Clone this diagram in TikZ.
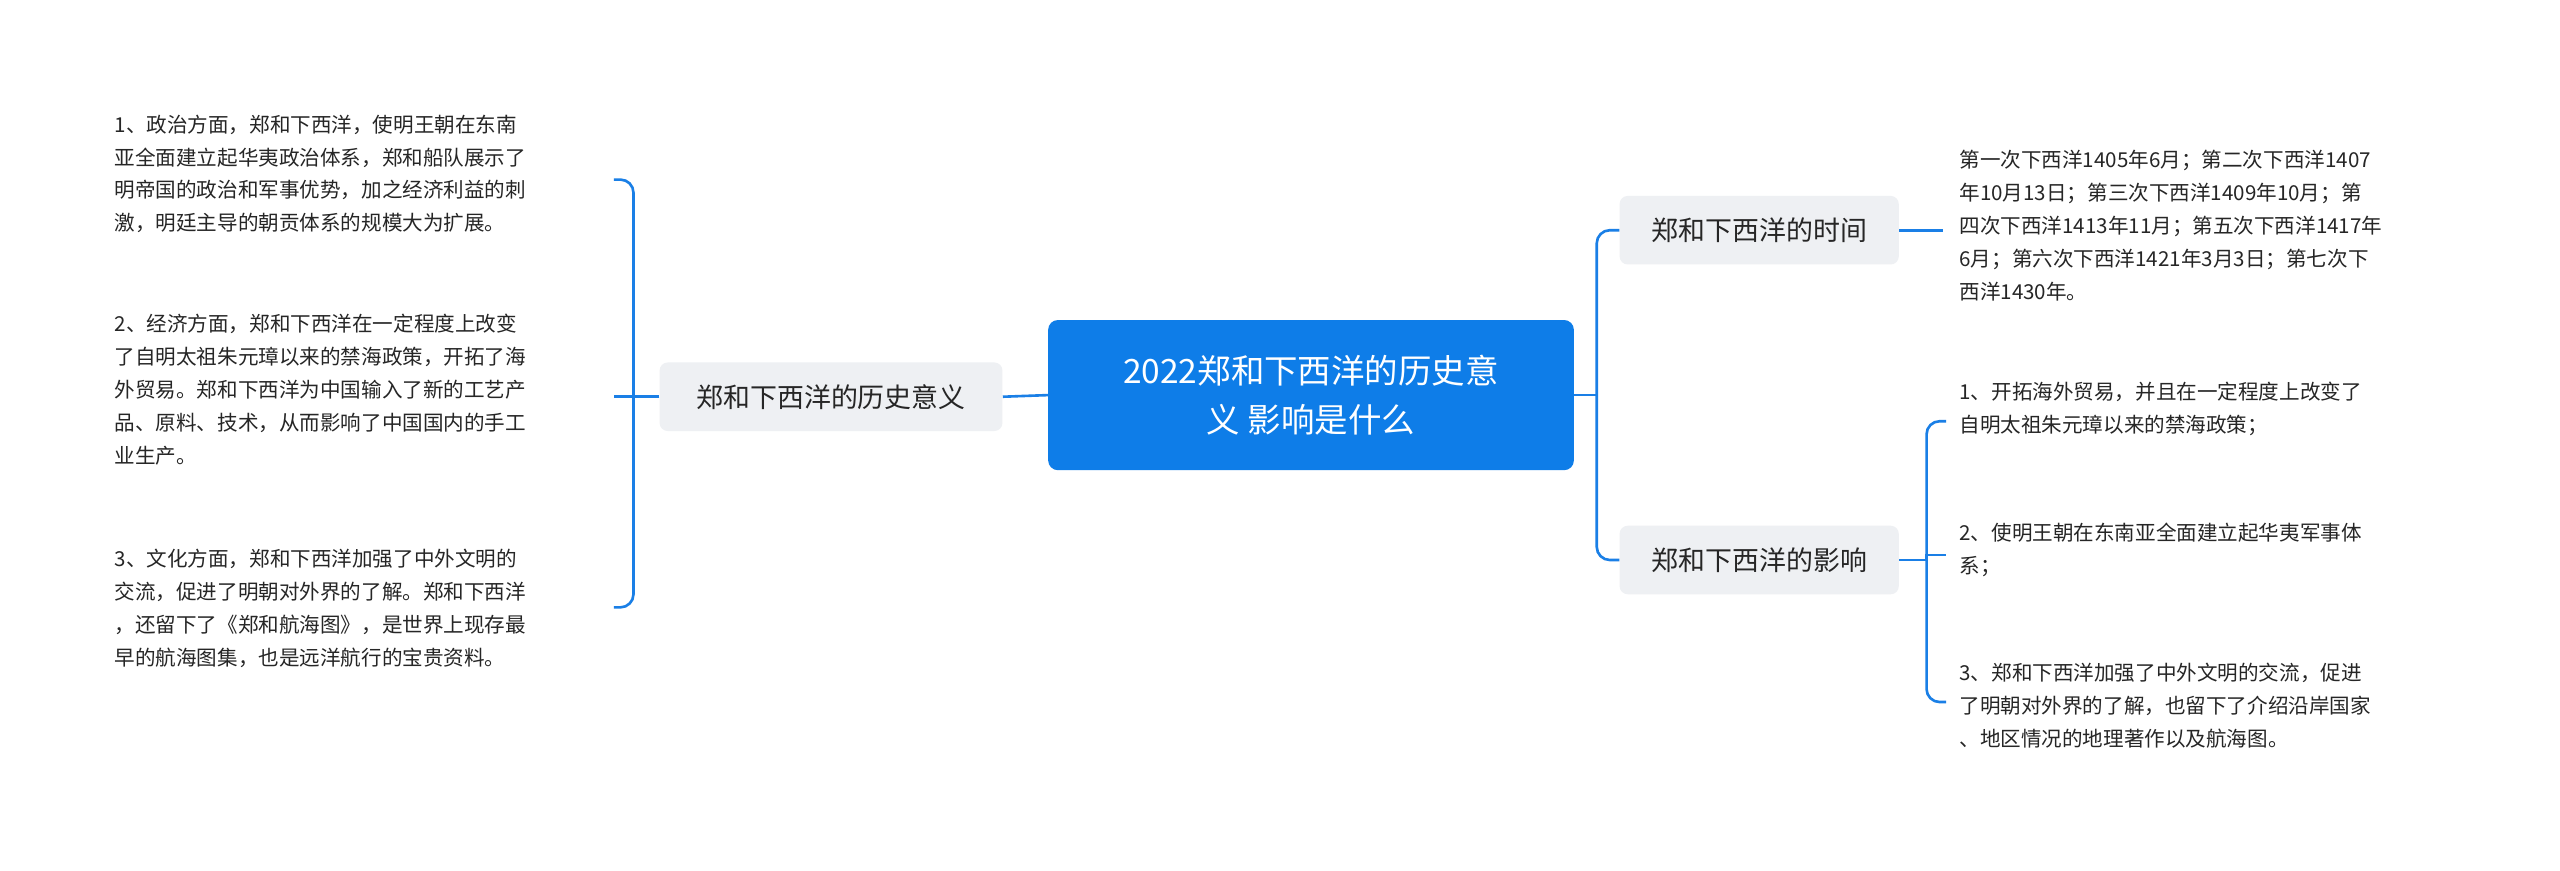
\documentclass[tikz,border=0pt]{standalone}
\usepackage{fontspec}
\setmainfont{Noto Sans CJK SC}
\begin{document}
\begin{tikzpicture}[x=1pt,y=-1pt,
  conn/.style={draw=lineblue,line width=1.6pt},
  branch/.style={fill=boxgrey,rounded corners=5pt,minimum height=42pt,inner xsep=10pt,font=\fontsize{16.5}{20}\selectfont,text=black!85},
  leaf/.style={anchor=north west,align=left,inner sep=0pt,font=\fontsize{12.6}{20.2}\selectfont,text=black!85}]
\definecolor{lineblue}{HTML}{1A7FE6}
\definecolor{boxgrey}{HTML}{EEF0F3}
\definecolor{cblue}{HTML}{0E7DE8}
\useasboundingbox[fill=white] (0,0) rectangle (1568,533);
\node[fill=cblue,rounded corners=6pt,minimum width=322pt,minimum height=92pt,align=center,text=white,font=\fontsize{20.5}{30}\selectfont] (c) at (803,242) {2022郑和下西洋的历史意\\义 影响是什么};
\node[branch,minimum width=210pt] (lb) at (509,243) {郑和下西洋的历史意义};
\node[branch,minimum width=171pt] (rt) at (1077.5,141) {郑和下西洋的时间};
\node[branch,minimum width=171pt] (ri) at (1077.5,343) {郑和下西洋的影响};
\node[leaf] (l1) at (70,70) {1、政治方面，郑和下西洋，使明王朝在东南\\亚全面建立起华夷政治体系，郑和船队展示了\\明帝国的政治和军事优势，加之经济利益的刺\\激，明廷主导的朝贡体系的规模大为扩展。};
\node[leaf] (l2) at (70,192) {2、经济方面，郑和下西洋在一定程度上改变\\了自明太祖朱元璋以来的禁海政策，开拓了海\\外贸易。郑和下西洋为中国输入了新的工艺产\\品、原料、技术，从而影响了中国国内的手工\\业生产。};
\node[leaf] (l3) at (70,336) {3、文化方面，郑和下西洋加强了中外文明的\\交流，促进了明朝对外界的了解。郑和下西洋\\，还留下了《郑和航海图》，是世界上现存最\\早的航海图集，也是远洋航行的宝贵资料。};
\node[leaf] (t1) at (1200,92) {第一次下西洋1405年6月；第二次下西洋1407\\年10月13日；第三次下西洋1409年10月；第\\四次下西洋1413年11月；第五次下西洋1417年\\6月；第六次下西洋1421年3月3日；第七次下\\西洋1430年。};
\node[leaf] (i1) at (1200,234) {1、开拓海外贸易，并且在一定程度上改变了\\自明太祖朱元璋以来的禁海政策；};
\node[leaf] (i2) at (1200,320) {2、使明王朝在东南亚全面建立起华夷军事体\\系；};
\node[leaf] (i3) at (1200,406) {3、郑和下西洋加强了中外文明的交流，促进\\了明朝对外界的了解，也留下了介绍沿岸国家\\、地区情况的地理著作以及航海图。};
\coordinate (lj) at (388,243);
\coordinate (rj) at (978,242);
\coordinate (ij) at (1180,343);
\draw[conn] (c.west) -- (lb.east);
\draw[conn] (lb.west) -- (lj);
\draw[conn,rounded corners=8pt] (376,110) -| (lj) |- (376,372);
\draw[conn] (lj) -- (376,243);
\draw[conn] (c.east) -- (rj);
\draw[conn,rounded corners=8pt] (rt.west) -| (rj) |- (ri.west);
\draw[conn] (rt.east) -- (1190,141);
\draw[conn] (ri.east) -- (ij);
\draw[conn,rounded corners=8pt] (1192,258) -| (ij) |- (1192,430);
\draw[conn] (ij) -- (1180,340) -- (1192,340);
\end{tikzpicture}
\end{document}
